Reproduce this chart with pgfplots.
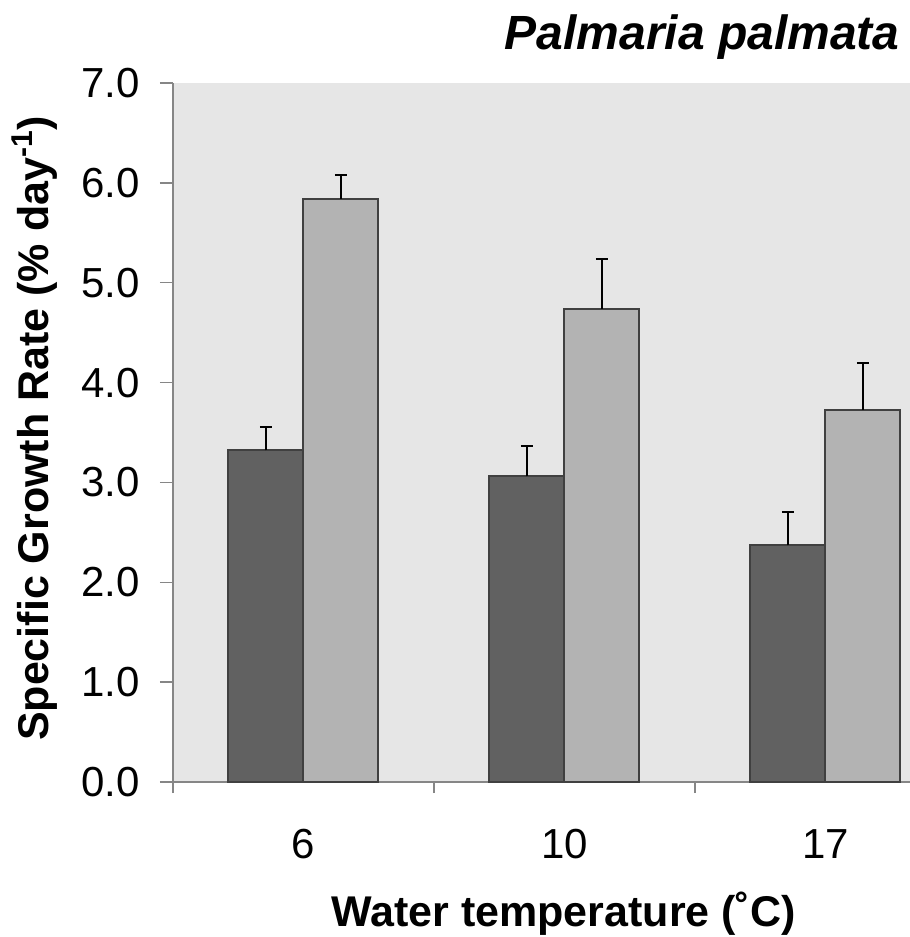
\documentclass[border=0pt]{standalone}
\usepackage{fontspec}
\setmainfont{Liberation Sans}
\usepackage{pgfplots}
\pgfplotsset{compat=1.18}
\definecolor{bg}{HTML}{E6E6E6}
\definecolor{darkbar}{HTML}{616161}
\definecolor{lightbar}{HTML}{B3B3B3}
\definecolor{edge}{HTML}{404040}
\definecolor{axgray}{HTML}{868686}
\pgfplotstableread{
x y e
0 3.32 0.24
1 3.06 0.30
2 2.37 0.33
}\darkdata
\pgfplotstableread{
x y e
0 5.84 0.24
1 4.74 0.50
2 3.73 0.47
}\lightdata
\begin{document}
\begin{tikzpicture}
\begin{axis}[
  scale only axis, width=368.5pt, height=349.5pt,
  xmin=-0.5, xmax=2.3238, ymin=0, ymax=7,
  clip=false,
  axis x line*=bottom, axis y line*=left,
  axis line style={draw=axgray, line width=0.75pt, -},
  axis background/.style={fill=bg},
  ybar=0pt, bar width=37.5pt,
  xtick={0,1,2}, xticklabels={6,10,17},
  minor xtick={-0.5,0.5,1.5},
  ytick={0,1,2,3,4,5,6,7},
  tick align=outside,
  major tick length=6.5pt, minor tick length=5.5pt,
  tick style={draw=axgray, line width=0.75pt},
  major x tick style={draw=none},
  /pgf/number format/.cd, fixed, fixed zerofill, precision=1, assume math mode=true,
  /pgfplots/.cd,
  ticklabel style={font=\fontsize{21}{25}\selectfont, inner sep=0pt},
  yticklabel style={anchor=east, xshift=-10pt},
  xticklabel style={anchor=north, yshift=-17pt},
  xlabel={Water temperature (˚C)},
  ylabel={Specific Growth Rate (\% day\textsuperscript{-1})},
  label style={font=\fontsize{21.5}{25}\bfseries\selectfont, inner sep=0pt},
  xlabel style={at={(axis description cs:0.53,-0.2074)}, anchor=base},
  ylabel style={at={(axis description cs:-0.1696,0.506)}, anchor=base, rotate=0},
]
\addplot[fill=darkbar, draw=edge, line width=1pt,
  error bars/.cd, y dir=plus, y explicit,
  error bar style={black, line width=1pt},
  error mark options={rotate=90, black, mark size=3pt, line width=1pt}]
  table[x=x, y=y, y error=e] {\darkdata};
\addplot[fill=lightbar, draw=edge, line width=1pt,
  error bars/.cd, y dir=plus, y explicit,
  error bar style={black, line width=1pt},
  error mark options={rotate=90, black, mark size=3pt, line width=1pt}]
  table[x=x, y=y, y error=e] {\lightdata};
\node[anchor=base east, inner sep=0pt, font=\fontsize{24}{28}\bfseries\itshape\selectfont]
  at (axis description cs:0.9865,1.0486) {Palmaria palmata};
\end{axis}
\pgfresetboundingbox
\path[use as bounding box] ([xshift=-86.5pt,yshift=-77.5pt]current axis.south west) rectangle ([yshift=41.5pt]current axis.north east);
\end{tikzpicture}
\end{document}
